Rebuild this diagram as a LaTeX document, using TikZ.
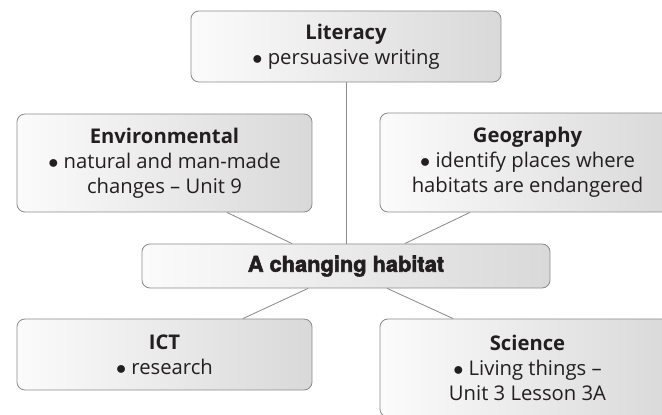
\documentclass[tikz,border=0pt]{standalone}
\usepackage{fontspec}
\setmainfont{Open Sans}
\newfontfamily\titlefont[BoldFeatures={FakeBold=2.5}]{TeX Gyre Heros}
\usepackage{tikz}

\definecolor{boxline}{RGB}{140,140,140}
\definecolor{boxtext}{RGB}{35,31,32}

\tikzset{
    topic/.style={draw=boxline, line width=0.6pt, rounded corners=0.2cm,
        left color=gray!3, right color=gray!30, align=center,
        text=boxtext, inner sep=0pt,
        font=\fontsize{14.4}{17.7}\selectfont},
    link/.style={draw=boxline, line width=0.6pt}
}
\newcommand{\dotitem}{$\bullet$\ }

\begin{document}
\begin{tikzpicture}[x=0.025cm, y=-0.025cm]
        \useasboundingbox (0,0) rectangle (662,414);
        \clip (0,0) rectangle (662,414);

        \node[topic, minimum width=7.75cm, minimum height=1.775cm] (lit) at (346,46.5)
            {\textbf{Literacy}\\ \dotitem persuasive writing};
        \node[topic, minimum width=7.375cm, minimum height=2.45cm] (env) at (164.5,163)
            {\textbf{Environmental}\\ \dotitem natural and man-made\\ changes -- Unit 9};
        \node[topic, minimum width=7.375cm, minimum height=2.475cm] (geo) at (527.5,162.5)
            {\textbf{Geography}\\ \dotitem identify places where\\ habitats are endangered};
        \node[topic, minimum width=10.2cm, minimum height=1.1cm] (hab) at (346,266)
            {\titlefont\bfseries\fontsize{15.5}{18}\selectfont A changing habitat};
        \node[topic, minimum width=7.375cm, minimum height=1.775cm] (ict) at (164.5,354.5)
            {\textbf{ICT}\\ \dotitem research};
        \node[topic, minimum width=7.375cm, minimum height=2.45cm] (sci) at (527.5,368)
            {\textbf{Science}\\ \dotitem Living things --\\ Unit 3 Lesson 3A};

        \draw[link] (lit) -- (hab);
        \draw[link] ([xshift=1.56cm]env.south) -- ([xshift=-1.35cm]hab.north);
        \draw[link] ([xshift=-1.44cm]geo.south) -- ([xshift=1.47cm]hab.north);
        \draw[link] ([xshift=-0.95cm]hab.south) -- ([xshift=1.96cm]ict.north);
        \draw[link] ([xshift=1.03cm]hab.south) -- ([xshift=-1.86cm]sci.north);
    \end{tikzpicture}
\end{document}
